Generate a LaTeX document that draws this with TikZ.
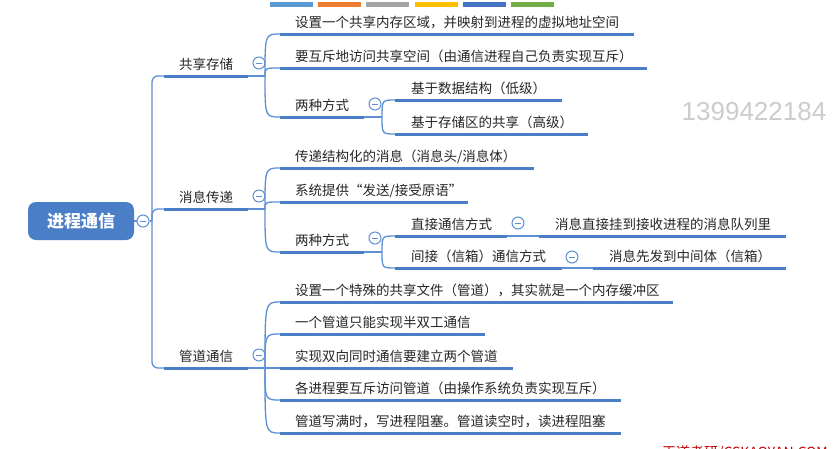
\documentclass[tikz,border=0pt]{standalone}
\usepackage{fontspec}
\setmainfont{Noto Sans CJK SC}
\newfontfamily\numfont{Liberation Sans}
\usetikzlibrary{calc}
\definecolor{mmblue}{HTML}{4A7EC6}
\definecolor{mmline}{HTML}{5C8FD4}
\definecolor{mmtext}{HTML}{262626}
\definecolor{barA}{HTML}{5B9BD5}
\definecolor{barB}{HTML}{ED7D31}
\definecolor{barC}{HTML}{A5A5A5}
\definecolor{barD}{HTML}{FFC000}
\definecolor{barE}{HTML}{4472C4}
\definecolor{barF}{HTML}{70AD47}
\tikzset{
  root/.style={fill=mmblue, rounded corners=8, text=white, inner sep=0,
    minimum width=106, minimum height=38, font=\fontsize{17}{17}\selectfont\bfseries},
  branch/.style={anchor=base, inner sep=0, text=mmtext, font=\fontsize{13.5}{14}\selectfont},
  leaf/.style={anchor=base west, inner sep=0, text=mmtext, font=\fontsize{13.5}{14}\selectfont},
  uline/.style={draw=mmblue, line width=3},
  link/.style={draw=mmline, line width=1.3},
  knob/.style={circle, draw=mmline, fill=white, line width=1, minimum size=12, inner sep=0,
    path picture={\draw[mmline, line width=1]
      ($(path picture bounding box.center)+(-3,0)$) -- ++(6,0);}},
  wmark/.style={inner sep=0, text=black!20, font=\numfont\fontsize{26}{26}\selectfont},
}
\begin{document}
\begin{tikzpicture}[x=1pt, y=-1pt]
  \useasboundingbox (0,0) rectangle (840,448);
  \fill[white] (0,0) rectangle (840,448);
  % colour bars on top
  \foreach \c [count=\i from 0] in {barA,barB,barC,barD,barE,barF}
    \fill[\c] (270+48.2*\i,2) rectangle ++(43,5);
  % root
  \node[root] (r) at (81,221) {进程通信};
  \node[knob] (rk) at (143,221) {};
  \coordinate (rf) at (152,221);
  \draw[link] (r) -- (rk);
  \draw[link] (rk) -- (rf);
  % first level
  \draw[uline] (164,76) coordinate (s1l) -- (248,76) coordinate (s1r);
  \node[branch] (s1) at (206,69) {共享存储};
  \draw[uline] (164,209) coordinate (s2l) -- (248,209) coordinate (s2r);
  \node[branch] (s2) at (206,202) {消息传递};
  \draw[uline] (164,368) coordinate (s3l) -- (248,368) coordinate (s3r);
  \node[branch] (s3) at (206,361) {管道通信};
  \foreach \t in {s1l,s2l,s3l}
    \draw[link, rounded corners=6] (rf) |- (\t);
  \foreach \s/\y in {s1/76,s2/209,s3/368}{
    \node[knob] (\s k) at (259,\y-13) {};
    \coordinate (\s f) at (265,\y);
    \draw[link] (\s r) -- (\s f);
  }
  % shared storage
  \draw[uline] (280,34) coordinate (a1l) -- (634,34) coordinate (a1r);
  \node[leaf] (a1) at (295,27) {设置一个共享内存区域，并映射到进程的虚拟地址空间};
  \draw[uline] (280,68) coordinate (a2l) -- (647,68) coordinate (a2r);
  \node[leaf] (a2) at (295,61) {要互斥地访问共享空间（由通信进程自己负责实现互斥）};
  \draw[uline] (280,117) coordinate (a3l) -- (364,117) coordinate (a3r);
  \node[leaf] (a3) at (295,110) {两种方式};
  \draw[uline] (395,100) coordinate (a31l) -- (562,100) coordinate (a31r);
  \node[leaf] (a31) at (411,93) {基于数据结构（低级）};
  \draw[uline] (395,134) coordinate (a32l) -- (588,134) coordinate (a32r);
  \node[leaf] (a32) at (411,127) {基于存储区的共享（高级）};
  \foreach \t in {a1l,a2l,a3l}
    \draw[link] (s1f) .. controls (s1f |- \t) .. (\t);
  \node[knob] (a3k) at (375,104) {};
  \coordinate (a3f) at (382,117);
  \draw[link] (a3r) -- (a3f);
  \foreach \t in {a31l,a32l}
    \draw[link] (a3f) .. controls (a3f |- \t) .. (\t);
  % message passing
  \draw[uline] (280,168) coordinate (b1l) -- (534,168) coordinate (b1r);
  \node[leaf] (b1) at (295,161) {传递结构化的消息（消息头/消息体）};
  \draw[uline] (280,202) coordinate (b2l) -- (468,202) coordinate (b2r);
  \node[leaf] (b2) at (295,195) {系统提供“发送/接受原语”};
  \draw[uline] (280,252) coordinate (b3l) -- (364,252) coordinate (b3r);
  \node[leaf] (b3) at (295,245) {两种方式};
  \draw[uline] (395,236) coordinate (b31l) -- (507,236) coordinate (b31r);
  \node[leaf] (b31) at (411,229) {直接通信方式};
  \draw[uline] (395,268) coordinate (b32l) -- (562,268) coordinate (b32r);
  \node[leaf] (b32) at (411,261) {间接（信箱）通信方式};
  \draw[uline] (539,236) coordinate (b311l) -- (786,236) coordinate (b311r);
  \node[leaf] (b311) at (555,229) {消息直接挂到接收进程的消息队列里};
  \draw[uline] (593,268) coordinate (b321l) -- (786,268) coordinate (b321r);
  \node[leaf] (b321) at (609,261) {消息先发到中间体（信箱）};
  \foreach \t in {b1l,b2l,b3l}
    \draw[link] (s2f) .. controls (s2f |- \t) .. (\t);
  \node[knob] (b3k) at (375,238) {};
  \coordinate (b3f) at (382,252);
  \draw[link] (b3r) -- (b3f);
  \foreach \t in {b31l,b32l}
    \draw[link] (b3f) .. controls (b3f |- \t) .. (\t);
  \node[knob] (b31k) at (518,223) {};
  \draw[link] (b31r) -- (b311l);
  \node[knob] (b32k) at (572,257) {};
  \draw[link] (b32r) -- (b321l);
  % pipes
  \draw[uline] (280,302) coordinate (c1l) -- (673,302) coordinate (c1r);
  \node[leaf] (c1) at (295,295) {设置一个特殊的共享文件（管道），其实就是一个内存缓冲区};
  \draw[uline] (280,334) coordinate (c2l) -- (485,334) coordinate (c2r);
  \node[leaf] (c2) at (295,327) {一个管道只能实现半双工通信};
  \draw[uline] (280,368) coordinate (c3l) -- (513,368) coordinate (c3r);
  \node[leaf] (c3) at (295,361) {实现双向同时通信要建立两个管道};
  \draw[uline] (280,400) coordinate (c4l) -- (621,400) coordinate (c4r);
  \node[leaf] (c4) at (295,393) {各进程要互斥访问管道（由操作系统负责实现互斥）};
  \draw[uline] (280,433) coordinate (c5l) -- (621,433) coordinate (c5r);
  \node[leaf] (c5) at (295,426) {管道写满时，写进程阻塞。管道读空时，读进程阻塞};
  \foreach \t in {c1l,c2l,c3l,c4l,c5l}
    \draw[link] (s3f) .. controls (s3f |- \t) .. (\t);
  % watermarks
  \node[wmark] (wm) at (754,112) {1399422184};
  \node[anchor=north west, inner sep=0, text=red!75!black,
    font=\fontsize{14}{14}\selectfont] (wm2) at (662,445) {王道考研/CSKAOYAN.COM};
\end{tikzpicture}
\end{document}
